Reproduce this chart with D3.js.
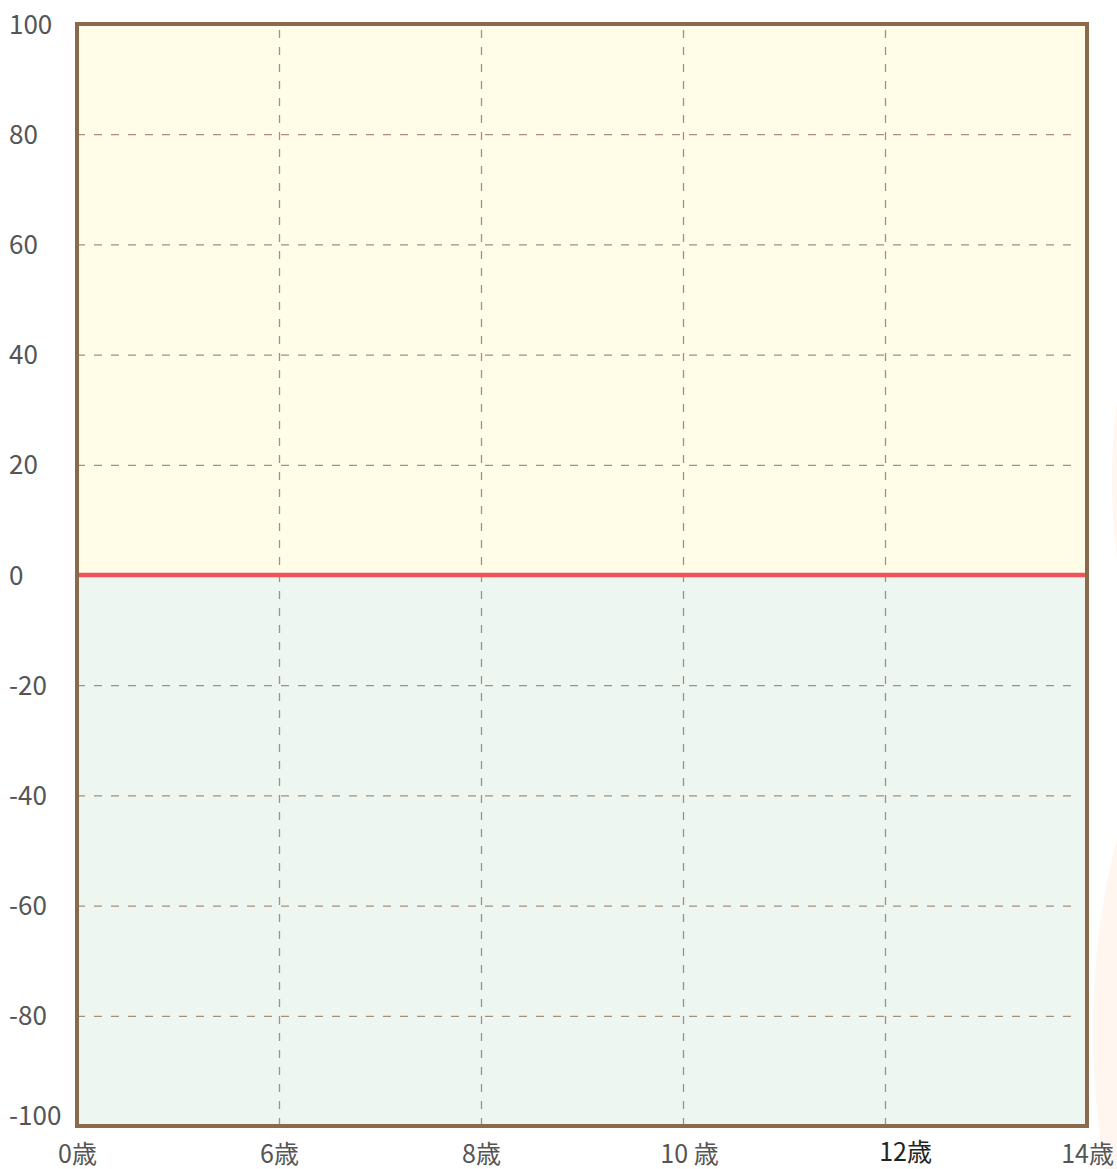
<!DOCTYPE html>
<html>
<head>
<meta charset="utf-8">
<script src="https://cdn.jsdelivr.net/npm/d3@7"></script>
<style>
  body { margin: 0; background: #fff; }
  svg { display: block; }
</style>
</head>
<body>
<div id="chart"></div>
<script>
// Datos del grafico
var ageLabels = ["0歳", "6歳", "8歳", "10 歳", "12歳", "14歳"];
var yTicks = [-100, -80, -60, -40, -20, 0, 20, 40, 60, 80, 100];
var yDomain = [-100, 100];
var baseline = 0;

// Tamanho do svg
var w = 1117, h = 1169;
var margin = {top: 24, right: 30, bottom: 43, left: 77};
var width = w - margin.left - margin.right;
var height = h - margin.top - margin.bottom;

var root = d3.select("#chart")
  .append("svg")
  .attr("width", w)
  .attr("height", h);

// decoracao no lado direito
root.append("ellipse")
  .attr("cx", 1147).attr("cy", 480)
  .attr("rx", 35).attr("ry", 150)
  .attr("fill", "#fef6ef");
root.append("ellipse")
  .attr("cx", 1291).attr("cy", 1030)
  .attr("rx", 198).attr("ry", 400)
  .attr("fill", "#fef6ef");

var svg = root.append("g")
  .attr("transform", "translate(" + margin.left + "," + margin.top + ")");

var x = d3.scalePoint().domain(ageLabels).range([0, width]);
var y = d3.scaleLinear().domain(yDomain).range([height, 0]);

// fundo: metade de cima amarela, de baixo verde
svg.append("rect")
  .attr("x", 0).attr("y", y(yDomain[1]))
  .attr("width", width).attr("height", y(baseline) - y(yDomain[1]))
  .attr("fill", "#fffce8");
svg.append("rect")
  .attr("x", 0).attr("y", y(baseline))
  .attr("width", width).attr("height", y(yDomain[0]) - y(baseline))
  .attr("fill", "#edf6f1");

// eixo y com grade
var yAxis = svg.append("g")
  .call(d3.axisLeft(y).tickValues(yTicks).tickSize(-(width - 7)).tickFormat(function(d) { return String(d); }));
yAxis.select(".domain").remove();
yAxis.selectAll(".tick line")
  .attr("stroke", "#a88f78")
  .attr("stroke-width", 1.3)
  .attr("stroke-dasharray", "8,9")
  .attr("display", function(d) { return (d === baseline || d === yDomain[0] || d === yDomain[1]) ? "none" : null; });
yAxis.selectAll(".tick text")
  .attr("x", -68)
  .attr("dy", function(d) { return d === yDomain[0] ? "-0.05em" : "0.35em"; })
  .attr("text-anchor", "start")
  .attr("fill", "#555")
  .attr("font-size", "26px")
  .attr("font-family", "'Noto Sans CJK JP', 'Noto Sans', sans-serif");

// eixo x com grade
var xAxis = svg.append("g")
  .attr("transform", "translate(0," + height + ")")
  .call(d3.axisBottom(x).tickSize(-height));
xAxis.select(".domain").remove();
xAxis.selectAll(".tick line")
  .attr("stroke", "#a88f78")
  .attr("stroke-width", 1.3)
  .attr("stroke-dasharray", "8,9")
  .attr("display", function(d, i) { return (i === 0 || i === ageLabels.length - 1) ? "none" : null; });
xAxis.selectAll(".tick text")
  .attr("y", 37)
  .attr("fill", function(d) { return d === "12歳" ? "#222" : "#555"; })
  .attr("dx", function(d) { return d === "12歳" ? 20 : (d === "10 歳" ? 6 : 0); })
  .attr("dy", function(d) { return d === "12歳" ? -2 : 0; })
  .attr("font-size", "25px")
  .attr("font-family", "'Noto Sans CJK JP', 'Noto Sans', sans-serif");

// linha vermelha no zero
svg.append("line")
  .attr("x1", 0).attr("x2", width)
  .attr("y1", y(baseline)).attr("y2", y(baseline))
  .attr("stroke", "#ee555a")
  .attr("stroke-width", 4.5);

// borda
svg.append("rect")
  .attr("x", 0).attr("y", 0)
  .attr("width", width).attr("height", height)
  .attr("fill", "none")
  .attr("stroke", "#8a6a4b")
  .attr("stroke-width", 4);
</script>
</body>
</html>
